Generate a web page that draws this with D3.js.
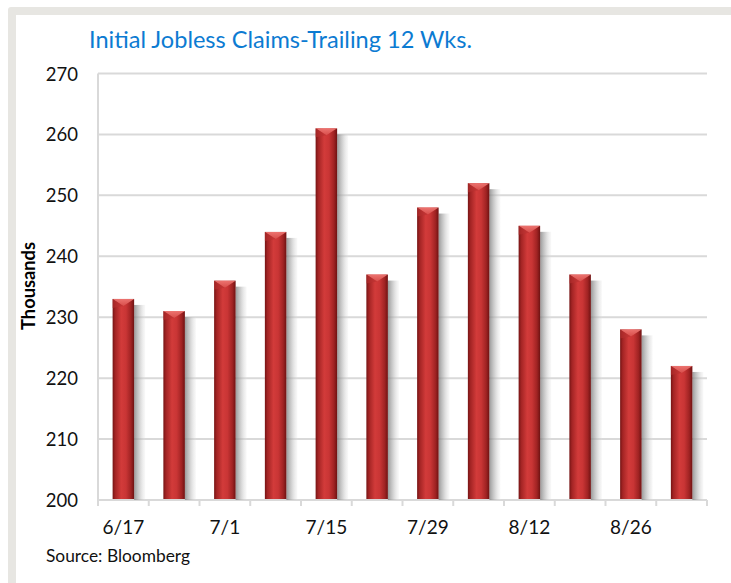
<!DOCTYPE html>
<html>
<head>
<meta charset="utf-8">
<script src="https://cdn.jsdelivr.net/npm/d3@7"></script>
<style>
  html, body { margin: 0; padding: 0; background: #fff; }
  svg { display: block; }
  text { font-family: Lato, "Open Sans", sans-serif; }
</style>
</head>
<body>
<svg id="chart" width="731" height="583"></svg>
<script>
// ---- data ----
const categories = ["6/17","6/24","7/1","7/8","7/15","7/22","7/29","8/5","8/12","8/19","8/26","9/2"];
const values = [233, 231, 236, 244, 261, 237, 248, 252, 245, 237, 228, 222];
const yTicks = [200, 210, 220, 230, 240, 250, 260, 270];
const xTickLabels = ["6/17","7/1","7/15","7/29","8/12","8/26"];
const titleText = "Initial Jobless Claims-Trailing 12 Wks.";
const yAxisTitle = "Thousands";
const sourceText = "Source: Bloomberg";

// ---- layout ----
const W = 731, H = 583;
const plot = { left: 98, right: 707, top: 73.5, bottom: 500 };

const svg = d3.select("#chart");

// frame
svg.append("rect").attr("x", 8).attr("y", 7).attr("width", W).attr("height", H)
  .attr("rx", 3).attr("fill", "#e7e6e2");
svg.append("rect").attr("x", 16).attr("y", 15).attr("width", W).attr("height", H)
  .attr("fill", "#ffffff");

// defs
const defs = svg.append("defs");
const gBody = defs.append("linearGradient").attr("id", "barBody")
  .attr("x1", "0%").attr("x2", "100%").attr("y1", "0%").attr("y2", "0%");
[["0%", "#761414"], ["12%", "#a32424"], ["40%", "#d23b3a"], ["62%", "#c93535"], ["85%", "#a02323"], ["100%", "#6e1212"]]
  .forEach(([o, c]) => gBody.append("stop").attr("offset", o).attr("stop-color", c));
const gShadow = defs.append("linearGradient").attr("id", "barShadow")
  .attr("x1", "0%").attr("x2", "100%").attr("y1", "0%").attr("y2", "0%");
[["0%", "#808080", 0.8], ["45%", "#b0b0b0", 0.6], ["100%", "#e0e0e0", 0.2]]
  .forEach(([o, c, op]) => gShadow.append("stop").attr("offset", o).attr("stop-color", c).attr("stop-opacity", op));
const gCap = defs.append("linearGradient").attr("id", "barCap")
  .attr("x1", "0%").attr("x2", "0%").attr("y1", "0%").attr("y2", "100%");
[["0%", "#f07a76"], ["100%", "#d9504d"]]
  .forEach(([o, c]) => gCap.append("stop").attr("offset", o).attr("stop-color", c));

// scales
const x = d3.scaleBand().domain(categories).range([plot.left, plot.right])
  .paddingInner(0.576).paddingOuter(0.288);
const y = d3.scaleLinear().domain([200, 270]).range([plot.bottom, plot.top]);

// gridlines
svg.append("g").selectAll("line").data(yTicks).join("line")
  .attr("x1", plot.left).attr("x2", plot.right)
  .attr("y1", d => y(d)).attr("y2", d => y(d))
  .attr("stroke", "#d9d9d9").attr("stroke-width", 2);

// y axis line
svg.append("line").attr("x1", plot.left).attr("x2", plot.left)
  .attr("y1", plot.top).attr("y2", plot.bottom + 6)
  .attr("stroke", "#d9d9d9").attr("stroke-width", 2);

// x tick marks at band boundaries
const gap = x.step() - x.bandwidth();
const bounds = categories.map(c => x(c) - gap / 2).concat([x(categories[categories.length - 1]) + x.bandwidth() + gap / 2]);
svg.append("g").selectAll("line").data(bounds).join("line")
  .attr("x1", d => d).attr("x2", d => d)
  .attr("y1", plot.bottom).attr("y2", plot.bottom + 6)
  .attr("stroke", "#d9d9d9").attr("stroke-width", 2);

// bars
const data = categories.map((c, i) => ({ c, v: values[i] }));
const bars = svg.append("g").selectAll("g").data(data).join("g");
bars.append("rect") // shadow
  .attr("x", d => x(d.c) + x.bandwidth())
  .attr("y", d => y(d.v) + 6)
  .attr("width", 11)
  .attr("height", d => plot.bottom - y(d.v) - 6)
  .attr("fill", "url(#barShadow)");
bars.append("rect") // body
  .attr("x", d => x(d.c))
  .attr("y", d => y(d.v))
  .attr("width", x.bandwidth())
  .attr("height", d => plot.bottom - 1 - y(d.v))
  .attr("fill", "url(#barBody)");
bars.append("path") // cap
  .attr("d", d => {
    const x0 = x(d.c), x1 = x0 + x.bandwidth(), t = y(d.v), cx = (x0 + x1) / 2;
    return `M${x0},${t}L${x1},${t}L${cx},${t + 7}Z`;
  })
  .attr("fill", "url(#barCap)").attr("opacity", 0.9);
bars.append("path") // cap side shading
  .attr("d", d => {
    const x0 = x(d.c), x1 = x0 + x.bandwidth(), t = y(d.v), cx = (x0 + x1) / 2;
    return `M${x0},${t}L${cx},${t + 7}L${x0},${t + 9}Z`;
  })
  .attr("fill", "#b83030").attr("opacity", 0.6);

// helper to fit text to a measured width
function fit(sel, target) {
  const w = sel.node().getComputedTextLength();
  const fs = parseFloat(sel.attr("font-size"));
  sel.attr("font-size", (fs * target / w).toFixed(2));
  return sel;
}

// y tick labels
svg.append("g").selectAll("text").data(yTicks).join("text")
  .attr("x", 78).attr("y", d => y(d) + 7)
  .attr("text-anchor", "end").attr("font-size", 18.5).attr("fill", "#111")
  .text(d => d);

// x tick labels
svg.append("g").selectAll("text").data(xTickLabels).join("text")
  .attr("x", d => x(d) + x.bandwidth() / 2).attr("y", 534)
  .attr("text-anchor", "middle").attr("font-size", 19).attr("fill", "#111")
  .text(d => d);

// title
fit(svg.append("text").attr("x", 89).attr("y", 48).attr("font-size", 22)
  .attr("fill", "#0c7bd2").text(titleText), 383);

// y axis title
fit(svg.append("text").attr("transform", "translate(35,286) rotate(-90)")
  .attr("text-anchor", "middle").attr("font-size", 16).attr("font-weight", "bold")
  .attr("fill", "#000").text(yAxisTitle), 88);

// source
fit(svg.append("text").attr("x", 46).attr("y", 562).attr("font-size", 14)
  .attr("fill", "#111").text(sourceText), 144);
</script>
</body>
</html>
